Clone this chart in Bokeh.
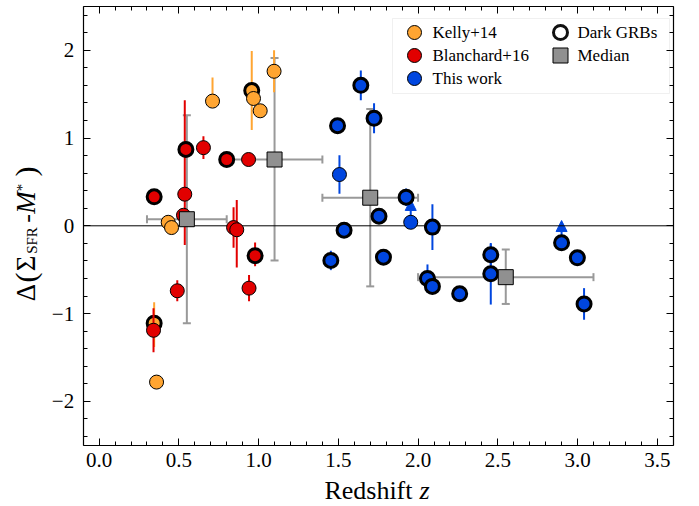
import math
from bokeh.plotting import figure
from bokeh.models import (ColumnDataSource, Range1d, LinearAxis, FixedTicker, Whisker,
                          TeeHead, Arrow, NormalHead, Label, BoxAnnotation)
from bokeh.embed import file_html
from bokeh.resources import INLINE

# ---------------- data ----------------
# Kelly+14
kelly_x = [0.711, 0.968, 1.010, 1.097, 0.433, 0.454, 0.360]
kelly_y = [1.42, 1.45, 1.31, 1.76, 0.04, -0.02, -1.78]
kelly_elo = [0.05, 0.0, 0.0, 0.24, 0.0, 0.0, 0.0]
kelly_ehi = [0.27, 0.0, 0.0, 0.24, 0.0, 0.0, 0.0]
kelly_dark_x = [0.957, 0.345]
kelly_dark_y = [1.54, -1.11]
kelly_dark_elo = [0.45, 0.27]
kelly_dark_ehi = [0.45, 0.24]

# Blanchard+16
blan_x = [0.654, 0.937, 0.537, 0.529, 0.843, 0.863, 0.940, 0.490, 0.341]
blan_y = [0.89, 0.755, 0.36, 0.12, -0.02, -0.045, -0.71, -0.74, -1.19]
blan_elo = [0.13, 0.06, 0.58, 0.0, 0.23, 0.43, 0.15, 0.12, 0.25]
blan_ehi = [0.13, 0.06, 1.07, 0.0, 0.23, 0.34, 0.15, 0.12, 0.25]
blan_dark_x = [0.345, 0.544, 0.800, 0.978]
blan_dark_y = [0.33, 0.87, 0.755, -0.34]
blan_dark_elo = [0.0, 0.0, 0.0, 0.12]
blan_dark_ehi = [0.0, 0.0, 0.0, 0.15]

# This work
tw_x = [1.507, 1.954]
tw_y = [0.584, 0.04]
tw_err = [0.22, 0.0]
tw_dark_x = [1.641, 1.495, 1.724, 1.536, 1.755, 1.925, 2.090, 1.453, 1.783,
             2.059, 2.090, 2.261, 2.456, 2.456, 2.900, 2.999, 3.041]
tw_dark_y = [1.60, 1.14, 1.225, -0.05, 0.11, 0.326, -0.015, -0.395, -0.357,
             -0.60, -0.69, -0.775, -0.33, -0.547, -0.194, -0.365, -0.89]
tw_dark_err = [0.17, 0.0, 0.17, 0.05, 0.0, 0.10, 0.26, 0.11, 0.0,
               0.16, 0.0, 0.0, 0.12, 0.35, 0.0, 0.0, 0.18]
# lower limits (upward arrows)
lim_x = [1.954, 2.900]
lim_y0 = [0.04, -0.194]
lim_y1 = [0.30, 0.06]

# Medians
med_x = [0.55, 1.10, 1.70, 2.55]
med_y = [0.075, 0.755, 0.32, -0.585]
med_xlo = [0.30, 0.80, 1.40, 2.00]
med_xhi = [0.80, 1.40, 2.00, 3.10]
med_ylo = [-1.11, -0.395, -0.69, -0.89]
med_yhi = [1.26, 1.91, 1.33, -0.27]

xticks = [0.0, 0.5, 1.0, 1.5, 2.0, 2.5, 3.0, 3.5]
xtick_labels = ["0.0", "0.5", "1.0", "1.5", "2.0", "2.5", "3.0", "3.5"]
yticks = [-2, -1, 0, 1, 2]
ytick_labels = ["\u22122", "\u22121", "0", "1", "2"]
xminor = [round(-0.1 + 0.1 * i, 2) for i in range(38)]
yminor = [round(-2.4 + 0.2 * i, 2) for i in range(25)]

legend_labels = ["Kelly+14", "Blanchard+16", "This work", "Dark GRBs", "Median"]

ORANGE = "#FFA532"
RED = "#E20000"
BLUE = "#0046DF"
GRAY = "#999999"
SQ_FILL = "#909090"
SERIF = "Liberation Serif"

# ---------------- layout geometry (picture pixels) ----------------
W, H = 699, 506                      # canvas
VX0, VX1, VY0, VY1 = -0.1, 3.6, -2.5, 2.5   # visible axes box in data units
FL, FR, FT, FB = 82.7, 672.7, 5.8, 444.8    # axes box edges in the picture
SX = (FR - FL) / (VX1 - VX0)
SY = (FB - FT) / (VY1 - VY0)
XL = VX0 - FL / SX
XR = XL + W / SX
YT = VY1 + FT / SY
YB = YT - H / SY

def px2x(px):
    return XL + px / SX

def py2y(py):
    return YT - py / SY

p = figure(width=W, height=H, min_border=0, min_border_left=0, min_border_right=0,
           min_border_top=0, min_border_bottom=0,
           x_range=Range1d(XL, XR), y_range=Range1d(YB, YT),
           output_backend="svg", toolbar_location=None)
p.xgrid.visible = False
p.ygrid.visible = False
p.outline_line_color = None
p.background_fill_color = "white"
p.border_fill_color = "white"

def style_axis(ax, ticks, minor, labels, show, loc, bounds):
    ax.ticker = FixedTicker(ticks=ticks, minor_ticks=minor)
    ax.fixed_location = loc
    ax.bounds = bounds
    ax.major_tick_in = 7
    ax.major_tick_out = 0
    ax.minor_tick_in = 4
    ax.minor_tick_out = 0
    ax.axis_line_color = "black"
    ax.axis_line_width = 1.2
    ax.major_tick_line_color = "black"
    ax.minor_tick_line_color = "black"
    ax.major_tick_line_width = 1
    ax.minor_tick_line_width = 1
    ax.axis_label = None
    ax.major_label_text_font = SERIF
    ax.major_label_text_font_size = "21px"
    ax.major_label_text_color = "black"
    if show:
        ax.major_label_overrides = {t: l for t, l in zip(ticks, labels)}
    else:
        ax.major_label_overrides = {t: "" for t in ticks}
        ax.major_label_standoff = 0

style_axis(p.xaxis[0], xticks, xminor, xtick_labels, True, VY0, (VX0, VX1))
p.xaxis[0].major_label_standoff = 8
style_axis(p.yaxis[0], yticks, yminor, ytick_labels, True, VX0, (VY0, VY1))
p.yaxis[0].major_label_standoff = 9

top_ax = LinearAxis()
style_axis(top_ax, xticks, xminor, xtick_labels, False, VY1, (VX0, VX1))
p.add_layout(top_ax, "above")
right_ax = LinearAxis()
style_axis(right_ax, yticks, yminor, ytick_labels, False, VX1, (VY0, VY1))
p.add_layout(right_ax, "right")

# zero line
p.segment(x0=[VX0], x1=[VX1], y0=[0], y1=[0], line_color="black", line_width=1)

# legend box
p.add_layout(BoxAnnotation(left=px2x(392), right=px2x(669), top=py2y(18), bottom=py2y(93),
                           fill_color="white", fill_alpha=1.0, line_color="#cccccc",
                           line_width=1, level="underlay"))

# median error bars (under the points)
msrc = ColumnDataSource(dict(x=med_x, y=med_y, xlo=med_xlo, xhi=med_xhi, ylo=med_ylo, yhi=med_yhi))
for dim, base, lo, hi in [("height", "x", "ylo", "yhi"), ("width", "y", "xlo", "xhi")]:
    w = Whisker(source=msrc, base=base, lower=lo, upper=hi, dimension=dim,
                line_color=GRAY, line_width=2, level="underlay",
                upper_head=TeeHead(size=8, line_color=GRAY, line_width=2),
                lower_head=TeeHead(size=8, line_color=GRAY, line_width=2))
    p.add_layout(w)

# lower-limit arrows
asrc = ColumnDataSource(dict(x=lim_x, y0=lim_y0, y1=lim_y1))
p.add_layout(Arrow(source=asrc, x_start="x", y_start="y0", x_end="x", y_end="y1",
                   line_color=BLUE, line_width=2, level="underlay",
                   end=NormalHead(size=11, fill_color=BLUE, line_color=BLUE, line_width=1)))

def errbars(xs, ys, elo, ehi, color):
    p.segment(x0=xs, y0=[y - e for y, e in zip(ys, elo)], x1=xs,
              y1=[y + e for y, e in zip(ys, ehi)], line_color=color, line_width=2)

def points(xs, ys, color, dark):
    return p.scatter(xs, ys, marker="circle", size=14, fill_color=color,
                     line_color="black", line_width=3 if dark else 1)

# Kelly+14
errbars(kelly_x, kelly_y, kelly_elo, kelly_ehi, ORANGE)
errbars(kelly_dark_x, kelly_dark_y, kelly_dark_elo, kelly_dark_ehi, ORANGE)
points(kelly_dark_x, kelly_dark_y, ORANGE, True)
points(kelly_x, kelly_y, ORANGE, False)

# Blanchard+16
errbars(blan_x, blan_y, blan_elo, blan_ehi, RED)
errbars(blan_dark_x, blan_dark_y, blan_dark_elo, blan_dark_ehi, RED)
points(blan_dark_x, blan_dark_y, RED, True)
points(blan_x, blan_y, RED, False)

# This work
errbars(tw_x, tw_y, tw_err, tw_err, BLUE)
errbars(tw_dark_x, tw_dark_y, tw_dark_err, tw_dark_err, BLUE)
points(tw_dark_x, tw_dark_y, BLUE, True)
points(tw_x, tw_y, BLUE, False)

# medians (squares on top)
p.scatter("x", "y", source=msrc, marker="square", size=15, fill_color=SQ_FILL,
          line_color="black", line_width=1)

# ---------------- legend (two columns) ----------------
ROW0, ROWSTEP = 32, 23
COL_MARK = [414, 560]
COL_TEXT = [432, 577]
legend_style = [
    (0, 0, "circle", ORANGE, "black", 1),
    (0, 1, "circle", RED, "black", 1),
    (0, 2, "circle", BLUE, "black", 1),
    (1, 0, "circle", "white", "#111111", 3),
    (1, 1, "square", SQ_FILL, "black", 1),
]
for lab, (col, row, mk, fc, lc, lw) in zip(legend_labels, legend_style):
    ypx = ROW0 + row * ROWSTEP
    p.scatter([px2x(COL_MARK[col])], [py2y(ypx)], marker=mk, size=14 if mk == "circle" else 15,
              fill_color=fc, line_color=lc, line_width=lw)
    p.add_layout(Label(x=px2x(COL_TEXT[col]), y=py2y(ypx), text=lab, text_align="left",
                       text_baseline="middle", text_font=SERIF, text_font_size="17px",
                       text_color="black"))

# ---------------- axis titles ----------------
ylabel_parts = [("\u0394", 25, 292, "27px", "normal"),
                ("(", 25, 277, "30px", "normal"),
                ("\u03a3", 25, 263, "27px", "normal"),
                ("SFR", 31, 240, "15px", "normal"),
                ("-", 26, 218, "26px", "normal"),
                ("M", 25, 202, "27px", "italic"),
                ("*", 21, 187, "15px", "normal"),
                (")", 25, 171, "30px", "normal")]
for txt, cx, cy, fs, st in ylabel_parts:
    p.add_layout(Label(x=px2x(cx), y=py2y(cy), text=txt, angle=math.pi / 2,
                       text_align="center", text_baseline="middle", text_font=SERIF,
                       text_font_size=fs, text_font_style=st, text_color="black"))

p.add_layout(Label(x=px2x(412), y=py2y(490), text="Redshift", text_align="right",
                   text_baseline="middle", text_font=SERIF, text_font_size="26px",
                   text_color="black"))
p.add_layout(Label(x=px2x(419), y=py2y(490), text="z", text_align="left",
                   text_baseline="middle", text_font=SERIF, text_font_size="26px",
                   text_font_style="italic", text_color="black"))

open("out.html", "w").write(file_html(p, INLINE))
